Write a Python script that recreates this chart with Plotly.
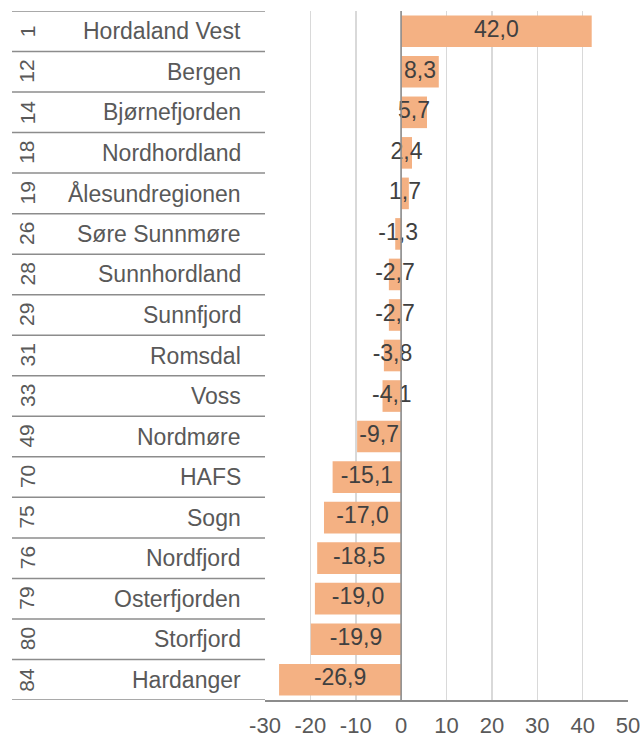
import plotly.graph_objects as go

ranks = [1, 12, 14, 18, 19, 26, 28, 29, 31, 33, 49, 70, 75, 76, 79, 80, 84]
names = ["Hordaland Vest", "Bergen", "Bjørnefjorden", "Nordhordland", "Ålesundregionen",
         "Søre Sunnmøre", "Sunnhordland", "Sunnfjord", "Romsdal", "Voss", "Nordmøre",
         "HAFS", "Sogn", "Nordfjord", "Osterfjorden", "Storfjord", "Hardanger"]
values = [42.0, 8.3, 5.7, 2.4, 1.7, -1.3, -2.7, -2.7, -3.8, -4.1, -9.7, -15.1,
          -17.0, -18.5, -19.0, -19.9, -26.9]
x_ticks = [-30, -20, -10, 0, 10, 20, 30, 40, 50]

W, H = 644, 738
FONT = "Liberation Sans, Arial, sans-serif"
rows = list(range(len(names)))
labels = [f"{v:.1f}".replace(".", ",") for v in values]


def px(x):
    return x / W


def py(y):
    return 1 - y / H


fig = go.Figure()
fig.add_trace(go.Bar(
    x=values, y=rows, orientation="h", width=0.78,
    marker=dict(color="#F4B183", line=dict(width=0)),
    hoverinfo="skip", showlegend=False,
))
fig.add_trace(go.Scatter(
    x=[v / 2 for v in values], y=rows, mode="text", text=labels,
    textposition="middle center",
    textfont=dict(family=FONT, size=23, color="#404040"),
    hoverinfo="skip", showlegend=False,
))

PL, PR, PT, PB = 265, 628, 11, 700
shapes = []
for i in range(len(names) + 1):
    shapes.append(dict(type="line", xref="paper", yref="y", x0=px(12), x1=px(PL),
                       y0=i - 0.5, y1=i - 0.5, line=dict(color="#8c8c8c", width=1.5)))
shapes.append(dict(type="line", xref="x", yref="paper", x0=0, x1=0, y0=py(PB), y1=py(PT),
                   line=dict(color="#8c8c8c", width=1.5), layer="above"))

annotations = []
for i, (r, n) in enumerate(zip(ranks, names)):
    annotations.append(dict(xref="paper", yref="y", x=px(243), y=i, text=n, xanchor="right",
                            yanchor="middle", showarrow=False,
                            font=dict(family=FONT, size=23, color="#595959")))
    annotations.append(dict(xref="paper", yref="y", x=px(27), y=i, text=str(r), textangle=-90,
                            xanchor="center", yanchor="middle", showarrow=False,
                            font=dict(family=FONT, size=21, color="#595959")))

fig.update_layout(
    width=W, height=H, autosize=False,
    margin=dict(l=0, r=0, t=0, b=0, pad=0),
    paper_bgcolor="white", plot_bgcolor="white",
    shapes=shapes, annotations=annotations,
    xaxis=dict(domain=[px(PL), px(PR)], range=[-30, 50], tickvals=x_ticks,
               ticktext=[str(t) for t in x_ticks], showgrid=True, gridcolor="#D9D9D9",
               gridwidth=1.5, zeroline=False, showline=True, linecolor="#8c8c8c", linewidth=1.5,
               ticks="", ticklabelstandoff=5, automargin=False,
               tickfont=dict(family=FONT, size=22, color="#595959")),
    yaxis=dict(domain=[py(PB), py(PT)], range=[len(names) - 0.5, -0.5], showticklabels=False,
               showgrid=False, zeroline=False, showline=False, automargin=False),
)
fig.write_html(
    "out.html",
    config={"displayModeBar": False, "staticPlot": True},
    post_script="document.body.style.margin='0px';document.body.style.overflow='hidden';",
)
